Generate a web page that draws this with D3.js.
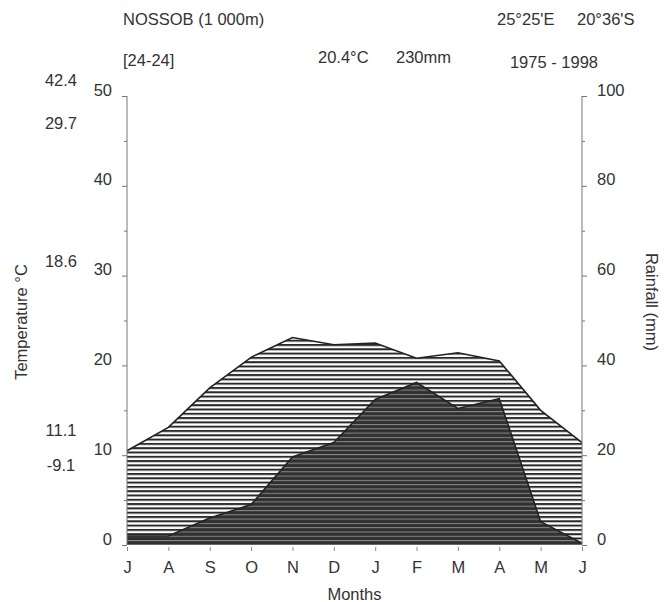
<!DOCTYPE html>
<html>
<head>
<meta charset="utf-8">
<script src="https://cdn.jsdelivr.net/npm/d3@7"></script>
<style>
  body { margin: 0; background: #fff; }
  svg text { font-family: "Liberation Sans", Arial, sans-serif; fill: #333; font-size: 16.5px; }
</style>
</head>
<body>
<div id="chart"></div>
<script>
// monthly values (July -> June, southern hemisphere)
var months = ["J", "A", "S", "O", "N", "D", "J", "F", "M", "A", "M", "J"];
var temperature = [10.5, 13.1, 17.5, 20.9, 23.1, 22.3, 22.5, 20.8, 21.4, 20.5, 15.0, 11.4];
var rainfall = [2, 2, 6, 9, 19.6, 22.8, 32.4, 36.2, 30.4, 32.6, 5.2, 0.4];
var tempTicks = [0, 10, 20, 30, 40, 50];
var rainTicks = [0, 20, 40, 60, 80, 100];
var sideValues = [42.4, 29.7, 18.6, 11.1, -9.1];
var sideY = [82, 125, 263, 432, 467];

var width = 664, height = 602;
var margin = {top: 96, right: 82, bottom: 57, left: 127};

var svg = d3.select("#chart").append("svg")
    .attr("width", width)
    .attr("height", height);

var x = d3.scalePoint().domain(d3.range(12)).range([margin.left, width - margin.right]);
var yT = d3.scaleLinear().domain([0, 50]).range([height - margin.bottom, margin.top]);
var yR = d3.scaleLinear().domain([0, 100]).range([height - margin.bottom, margin.top]);

// hatch patterns
var defs = svg.append("defs");
var light = defs.append("pattern").attr("id", "hatchLight")
    .attr("patternUnits", "userSpaceOnUse").attr("width", 8).attr("height", 4.3);
light.append("rect").attr("width", 8).attr("height", 4.3).attr("fill", "#fff");
light.append("rect").attr("y", 0).attr("width", 8).attr("height", 2).attr("fill", "#2a2a2a");

var dark = defs.append("pattern").attr("id", "hatchDark")
    .attr("patternUnits", "userSpaceOnUse").attr("width", 8).attr("height", 4.3);
dark.append("rect").attr("width", 8).attr("height", 4.3).attr("fill", "#303030");
dark.append("rect").attr("y", 2.6).attr("width", 8).attr("height", 1).attr("fill", "#8a8a8a");

var areaT = d3.area()
    .x(function(d, i){ return x(i); })
    .y0(yT(0))
    .y1(function(d){ return yT(d); });
var areaR = d3.area()
    .x(function(d, i){ return x(i); })
    .y0(yR(0))
    .y1(function(d){ return yR(d); });

svg.append("path").datum(temperature)
    .attr("d", areaT).attr("fill", "url(#hatchLight)");
svg.append("path").datum(rainfall)
    .attr("d", areaR).attr("fill", "url(#hatchDark)");

var lineT = d3.line().x(function(d, i){ return x(i); }).y(function(d){ return yT(d); });
var lineR = d3.line().x(function(d, i){ return x(i); }).y(function(d){ return yR(d); });
svg.append("path").datum(temperature).attr("d", lineT)
    .attr("fill", "none").attr("stroke", "#222").attr("stroke-width", 1.6);
svg.append("path").datum(rainfall).attr("d", lineR)
    .attr("fill", "none").attr("stroke", "#222").attr("stroke-width", 1.6);

// left axis (temperature)
var leftAxis = d3.axisLeft(yT).tickValues(d3.range(0, 51, 5)).tickSize(4)
    .tickFormat(function(d){ return tempTicks.indexOf(d) >= 0 ? d : ""; });
var gL = svg.append("g").attr("transform", "translate(" + margin.left + ",0)").call(leftAxis);
gL.select(".domain").attr("stroke", "#777").attr("d", "M0," + yT(50) + "V" + yT(0));
gL.selectAll(".tick line").attr("stroke", "#777")
    .attr("x2", function(d){ return tempTicks.indexOf(d) >= 0 ? -5 : -3; });
gL.selectAll(".tick text").attr("font-size", null).attr("x", -15).attr("dy", "-0.05em");

// right axis (rainfall)
var rightAxis = d3.axisRight(yR).tickValues(d3.range(0, 101, 10)).tickSize(4)
    .tickFormat(function(d){ return rainTicks.indexOf(d) >= 0 ? d : ""; });
var gR = svg.append("g").attr("transform", "translate(" + (width - margin.right) + ",0)").call(rightAxis);
gR.select(".domain").attr("stroke", "#777").attr("d", "M0," + yR(100) + "V" + yR(0));
gR.selectAll(".tick line").attr("stroke", "#777")
    .attr("x2", function(d){ return rainTicks.indexOf(d) >= 0 ? 5 : 3; });
gR.selectAll(".tick text").attr("font-size", null).attr("x", 15).attr("dy", "-0.05em");

// month axis
var bottomAxis = d3.axisBottom(x).tickSize(4).tickFormat(function(d){ return months[d]; });
var gB = svg.append("g").attr("transform", "translate(0," + yT(0) + ")").call(bottomAxis);
gB.select(".domain").remove();
gB.selectAll(".tick line").attr("stroke", "#888").attr("y1", 2).attr("y2", 6);
gB.selectAll(".tick text").attr("font-size", null).attr("y", 16);

// extreme values on the left
svg.selectAll(".side").data(sideValues).enter().append("text")
    .attr("class", "side")
    .attr("x", 61).attr("y", function(d, i){ return sideY[i]; })
    .attr("text-anchor", "middle").attr("dominant-baseline", "middle")
    .text(function(d){ return d.toFixed(1); });

// axis titles
svg.append("text").attr("transform", "translate(27,322) rotate(-90)")
    .attr("text-anchor", "middle").text("Temperature °C");
svg.append("text").attr("transform", "translate(646,302) rotate(90)")
    .attr("text-anchor", "middle").text("Rainfall (mm)");
svg.append("text").attr("x", (x(0) + x(11)) / 2).attr("y", 600)
    .attr("text-anchor", "middle").text("Months");

// header
svg.append("text").attr("x", 123).attr("y", 25).text("NOSSOB (1 000m)");
svg.append("text").attr("x", 497).attr("y", 25).text("25°25'E");
svg.append("text").attr("x", 577).attr("y", 25).text("20°36'S");
svg.append("text").attr("x", 123).attr("y", 66).text("[24-24]");
svg.append("text").attr("x", 318).attr("y", 63).text("20.4°C");
svg.append("text").attr("x", 396).attr("y", 63).text("230mm");
svg.append("text").attr("x", 598).attr("y", 68).attr("text-anchor", "end").text("1975 - 1998");
</script>
</body>
</html>
